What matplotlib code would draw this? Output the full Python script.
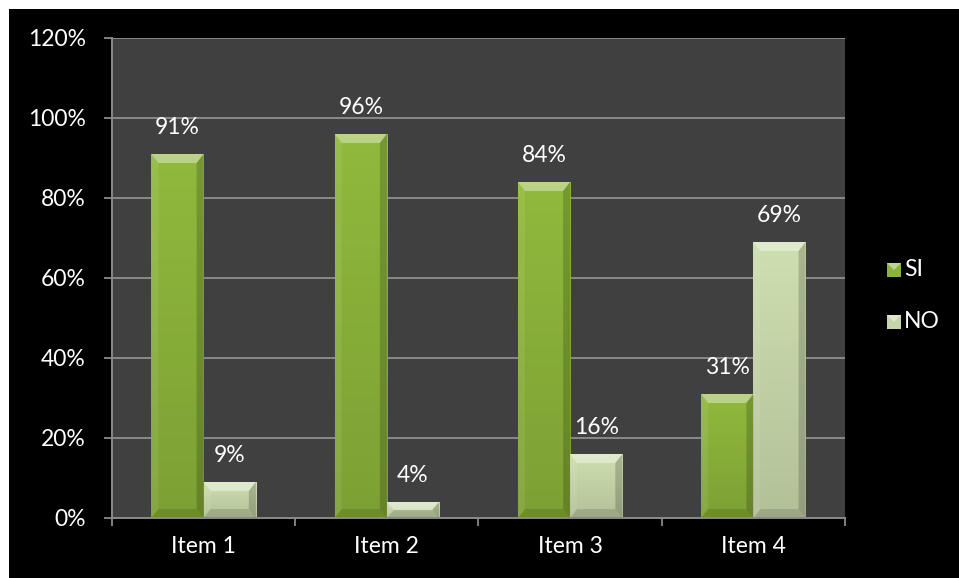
import numpy as np
import matplotlib.pyplot as plt
from matplotlib.patches import Polygon, Rectangle
from matplotlib.colors import to_rgb

plt.rcParams['font.family'] = ['Lato', 'DejaVu Sans']

items = ["Item 1", "Item 2", "Item 3", "Item 4"]
si = [91, 96, 84, 31]
no = [9, 4, 16, 69]
series = ["SI", "NO"]
yticks = [0, 20, 40, 60, 80, 100, 120]

si_color = "#8bb23a"
no_color = "#c6d6a9"
fs = 16.5

fig = plt.figure(figsize=(9.59, 5.78), dpi=100, facecolor="white")
# black chart area, thin white margin on top and left
fig.patches.append(Rectangle((9 / 959, 0), 1, 1 - 9 / 578, transform=fig.transFigure,
                             facecolor="black", edgecolor="none", zorder=-10))

ax = fig.add_axes([112 / 959, 60 / 578, 733 / 959, 480 / 578])
ax.set_facecolor("#404040")

x = np.arange(len(items))
w = 0.285
ax.set_xlim(-0.5, len(items) - 0.5)
ax.set_ylim(0, 120)

bars_si = ax.bar(x - w / 2, si, w, color=si_color, zorder=2)
bars_no = ax.bar(x + w / 2, no, w, color=no_color, zorder=2)

# bevel size in data units (about 7 px sideways, 9 px on top)
bx = 7 / 733 * 4
by = 9 / 480 * 120


def shade(bar, base):
    x0, y0 = bar.get_x(), bar.get_y()
    x1, y1 = x0 + bar.get_width(), y0 + bar.get_height()
    rgb = np.array(to_rgb(base))
    # vertical gradient, lighter at top
    t = np.linspace(1, 0, 64)[:, None, None]
    grad = rgb * (0.9 + 0.14 * t)
    grad = np.clip(np.repeat(grad, 2, axis=1), 0, 1)
    im = ax.imshow(grad, extent=(x0, x1, y0, y1), aspect="auto", zorder=2.1, interpolation="bicubic")
    im.set_clip_path(bar)
    b = min(by, (y1 - y0) / 2)
    cx = bx
    ax.add_patch(Polygon([(x0, y1), (x1, y1), (x1 - cx, y1 - b), (x0 + cx, y1 - b)],
                         facecolor="white", alpha=0.38, edgecolor="none", zorder=2.2))
    ax.add_patch(Polygon([(x0, y0), (x0, y1), (x0 + cx, y1 - b), (x0 + cx, y0 + b)],
                         facecolor="white", alpha=0.08, edgecolor="none", zorder=2.2))
    ax.add_patch(Polygon([(x1, y0), (x1, y1), (x1 - cx, y1 - b), (x1 - cx, y0 + b)],
                         facecolor="black", alpha=0.18, edgecolor="none", zorder=2.2))
    ax.add_patch(Polygon([(x0, y0), (x1, y0), (x1 - cx, y0 + b), (x0 + cx, y0 + b)],
                         facecolor="black", alpha=0.12, edgecolor="none", zorder=2.2))


for bar in bars_si:
    shade(bar, si_color)
for bar in bars_no:
    shade(bar, no_color)

for bars, vals in ((bars_si, si), (bars_no, no)):
    for bar, v in zip(bars, vals):
        ax.annotate(f"{v}%", (bar.get_x() + bar.get_width() / 2, v), xytext=(0, 19),
                    textcoords="offset points", ha="center", va="center",
                    color="white", fontsize=fs, zorder=3)

ax.set_yticks(yticks)
ax.set_yticklabels([f"{t}%" for t in yticks])
ax.yaxis.grid(True, color="#8a8a8a", linewidth=1.4, zorder=1)
ax.set_axisbelow(True)

ax.set_xticks(x)
ax.set_xticklabels(items)
ax.set_xticks(np.arange(len(items) + 1) - 0.5, minor=True)
ax.tick_params(axis="x", which="major", length=0, pad=13, colors="white", labelsize=fs)
ax.tick_params(axis="x", which="minor", length=6, color="#8a8a8a", width=1.3)
ax.tick_params(axis="y", length=6, width=1.3, pad=13, colors="white", labelsize=fs)
ax.tick_params(axis="y", color="#8a8a8a")

for side in ("top", "right"):
    ax.spines[side].set_visible(False)
for side in ("left", "bottom"):
    ax.spines[side].set_color("#8a8a8a")
    ax.spines[side].set_linewidth(1.4)

# legend with small bevelled squares, placed in axes fractions
sq_w, sq_h = 14 / 733, 14 / 480
lx = (887 - 112) / 733
for i, (name, col) in enumerate(zip(series, [si_color, no_color])):
    ly = 1 - (270 - 38) / 480 - i * 52 / 480
    ax.add_patch(Rectangle((lx, ly - sq_h / 2), sq_w, sq_h, transform=ax.transAxes,
                           facecolor=col, edgecolor="none", clip_on=False))
    ax.add_patch(Polygon([(lx, ly + sq_h / 2), (lx + sq_w, ly + sq_h / 2), (lx + sq_w / 2, ly)],
                         transform=ax.transAxes, facecolor="white", alpha=0.45,
                         edgecolor="none", clip_on=False))
    ax.text(lx + sq_w + 3 / 733, ly, name, transform=ax.transAxes, color="white", fontsize=fs,
            va="center", ha="left")

fig.savefig("out.png", dpi=100, facecolor=fig.get_facecolor())
